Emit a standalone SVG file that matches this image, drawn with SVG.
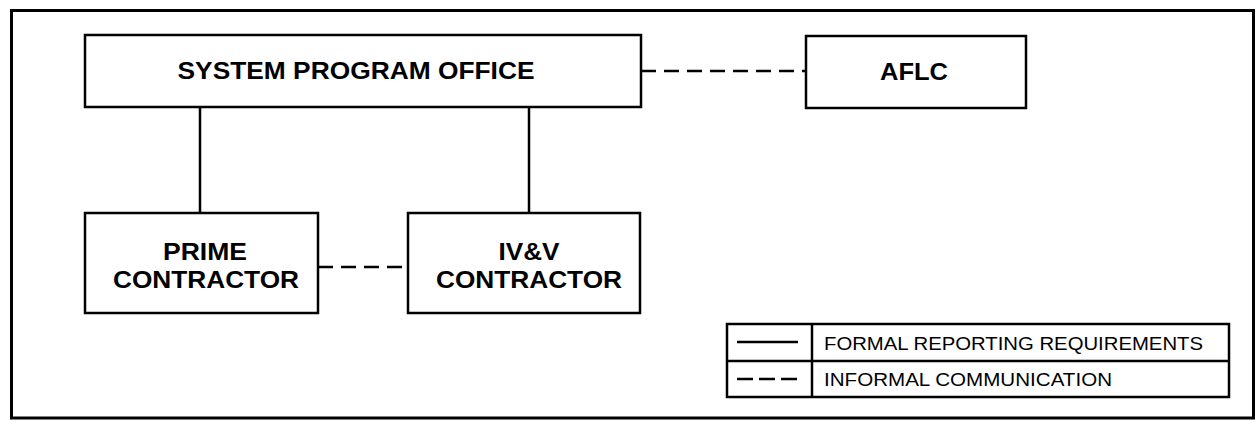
<svg xmlns="http://www.w3.org/2000/svg" width="1258" height="421" viewBox="0 0 1258 421">
<style>
.box{fill:#fff;stroke:#000;stroke-width:2.5}
.solid{stroke:#000;stroke-width:2.5;fill:none}
.dash{stroke:#000;stroke-width:2.5;fill:none;stroke-dasharray:15,8}
.t{font-family:"Liberation Sans",Arial,sans-serif;font-weight:bold;font-size:23px;text-anchor:middle;fill:#000}
.l{font-family:"Liberation Sans",Arial,sans-serif;font-size:18px;fill:#000}
</style>
<rect width="1258" height="421" fill="#fff"/>
<rect x="11.5" y="10.5" width="1242" height="407.5" fill="none" stroke="#000" stroke-width="3"/>
<g id="connectors">
<line class="solid" x1="200" y1="107" x2="200" y2="213"/>
<line class="solid" x1="529" y1="107" x2="529" y2="213"/>
<line class="dash" x1="641" y1="71" x2="806" y2="71"/>
<line class="dash" x1="318" y1="267" x2="408" y2="267"/>
</g>
<g id="spo">
<rect class="box" x="85" y="35" width="556" height="72"/>
<text class="t" x="356" y="79" textLength="357" lengthAdjust="spacingAndGlyphs">SYSTEM PROGRAM OFFICE</text>
</g>
<g id="aflc">
<rect class="box" x="806" y="36" width="220" height="72"/>
<text class="t" x="914" y="80" textLength="68" lengthAdjust="spacingAndGlyphs">AFLC</text>
</g>
<g id="prime">
<rect class="box" x="85" y="213" width="233" height="100"/>
<text class="t" x="205" y="260" textLength="84" lengthAdjust="spacingAndGlyphs">PRIME</text>
<text class="t" x="206" y="288" textLength="186" lengthAdjust="spacingAndGlyphs">CONTRACTOR</text>
</g>
<g id="ivv">
<rect class="box" x="408" y="213" width="232" height="100"/>
<text class="t" x="529" y="260" textLength="61" lengthAdjust="spacingAndGlyphs">IV&amp;V</text>
<text class="t" x="529" y="288" textLength="186" lengthAdjust="spacingAndGlyphs">CONTRACTOR</text>
</g>
<g id="legend">
<rect class="box" x="727" y="324" width="502" height="73"/>
<line class="solid" x1="812" y1="324" x2="812" y2="397"/>
<line class="solid" x1="727" y1="361" x2="1229" y2="361"/>
<line class="solid" x1="737" y1="342" x2="798" y2="342"/>
<line class="dash" x1="737" y1="379" x2="798" y2="379" style="stroke-dasharray:16,6"/>
<text class="l" x="824" y="350" textLength="379" lengthAdjust="spacingAndGlyphs">FORMAL REPORTING REQUIREMENTS</text>
<text class="l" x="824" y="386" textLength="288" lengthAdjust="spacingAndGlyphs">INFORMAL COMMUNICATION</text>
</g>
</svg>
